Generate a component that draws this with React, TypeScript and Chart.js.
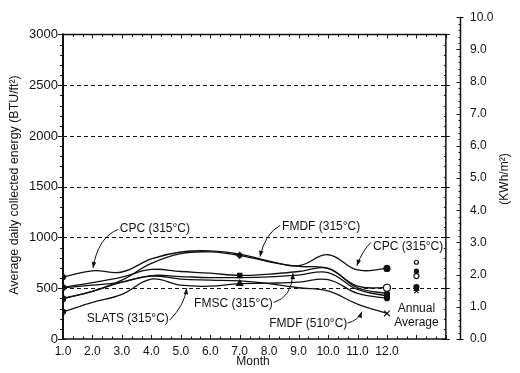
import React, { useEffect, useRef } from "react";
import { Chart, registerables } from "chart.js";

Chart.register(...registerables);

// ---------- data ----------
const months = [1, 2, 3, 4, 5, 6, 7, 8, 9, 10, 11, 12];
const monthTicks = [1, 2, 3, 4, 5, 6, 7, 8, 9, 10, 11, 12];
const energyTicks = [0, 500, 1000, 1500, 2000, 2500, 3000];
const kwhTicks = [0, 1, 2, 3, 4, 5, 6, 7, 8, 9, 10];

const cpc315 = [610, 672, 660, 790, 857, 868, 836, 768, 722, 830, 680, 695];
const fmdf315 = [400, 470, 580, 745, 842, 858, 824, 760, 715, 695, 520, 505];
const fmsc315 = [510, 555, 610, 685, 665, 648, 626, 640, 665, 695, 505, 447];
const otherSeries = [505, 530, 560, 625, 615, 605, 605, 612, 630, 655, 488, 424];
const slats315 = [268, 360, 440, 590, 530, 520, 545, 550, 560, 585, 450, 402];
const fmdf510 = [395, 470, 560, 620, 590, 580, 572, 545, 505, 473, 343, 252];

const annualMonth = 13;
const annualAverages = [756, 668, 620, 512, 490, 473];

const FONT = "'Liberation Sans', Arial, sans-serif";

type Ann = { text: string; tx: number; ty: number; a: [number, number][] };
// annotation anchors in data units (month, BTU/ft2)
const annotations: Ann[] = [
  { text: "CPC (315°C)", tx: 2.93, ty: 1089, a: [[2.87, 1079], [2.19, 1002], [2.02, 700]] },
  { text: "FMDF (315°C)", tx: 8.44, ty: 1109, a: [[8.37, 1118], [7.86, 1040], [7.69, 810]] },
  { text: "CPC (315°C)", tx: 11.53, ty: 914, a: [[11.46, 953], [11.15, 865], [10.98, 722]] },
  { text: "FMSC (315°C)", tx: 5.45, ty: 350, a: [[8.15, 360], [8.76, 405], [8.81, 648]] },
  { text: "SLATS (315°C)", tx: 1.81, ty: 204, a: [[4.62, 185], [5.12, 330], [5.2, 500]] },
  { text: "FMDF (510°C)", tx: 8.0, ty: 146, a: [[10.66, 156], [11.03, 185], [11.15, 268]] },
];

function pts(vals: number[]) {
  return months.map((m, i) => ({ x: m, y: vals[i] }));
}

function radii(first: number, mid: number, last: number) {
  return months.map((_, i) => (i === 0 ? first : i === 6 ? mid : i === 11 ? last : 0));
}

const decorPlugin = {
  id: "decor",
  beforeDatasetsDraw(chart: any) {
    const { ctx, scales, chartArea } = chart;
    const X = (v: number) => scales.x.getPixelForValue(v);
    const Y = (v: number) => scales.y.getPixelForValue(v);
    const R = (v: number) => scales.y2.getPixelForValue(v);
    ctx.save();
    ctx.strokeStyle = "#111";
    ctx.fillStyle = "#111";
    // dashed grid
    ctx.lineWidth = 1;
    ctx.setLineDash([4, 3]);
    for (const v of energyTicks) {
      if (v === 0 || v === 3000) continue;
      const yy = Math.round(Y(v)) + 0.5;
      ctx.beginPath();
      ctx.moveTo(X(1), yy);
      ctx.lineTo(X(14), yy);
      ctx.stroke();
    }
    ctx.setLineDash([]);
    const l = X(1), r = X(14), t = Y(3000), b = Y(0);
    // frame
    ctx.lineWidth = 1.5;
    ctx.beginPath();
    ctx.moveTo(l, t); ctx.lineTo(r, t); ctx.lineTo(r, b); ctx.lineTo(l, b);
    ctx.stroke();
    ctx.lineWidth = 2;
    ctx.beginPath();
    ctx.moveTo(l, t - 1); ctx.lineTo(l, b + 1);
    ctx.stroke();
    // left axis ticks and right frame ticks
    ctx.lineWidth = 1;
    for (let v = 0; v <= 3000; v += 100) {
      const yy = Math.round(Y(v)) + 0.5;
      const major = v % 500 === 0;
      ctx.beginPath();
      ctx.moveTo(l - (major ? 5 : 3), yy);
      ctx.lineTo(l + (major ? 3 : 0), yy);
      ctx.stroke();
      ctx.beginPath();
      ctx.moveTo(r - (major ? 4 : 2), yy);
      ctx.lineTo(r + (major ? 4 : 0), yy);
      ctx.stroke();
    }
    // top and bottom ticks
    for (let k = 0; k <= 39; k++) {
      const m = 1 + k / 3;
      const xx = Math.round(X(m)) + 0.5;
      const major = k % 3 === 0;
      ctx.beginPath();
      ctx.moveTo(xx, b);
      ctx.lineTo(xx, b - (major ? 4 : 2.5));
      ctx.stroke();
      ctx.beginPath();
      ctx.moveTo(xx, t);
      ctx.lineTo(xx, t + (major ? 4 : 2.5));
      ctx.stroke();
    }
    // right kWh axis
    const ax = chartArea.right + 0.5;
    ctx.lineWidth = 1.5;
    ctx.beginPath();
    ctx.moveTo(ax, R(0));
    ctx.lineTo(ax, R(10));
    ctx.stroke();
    ctx.lineWidth = 1;
    for (let k = 0; k <= 50; k++) {
      const v = k / 5;
      const yy = Math.round(R(v)) + 0.5;
      const major = k % 5 === 0;
      ctx.beginPath();
      ctx.moveTo(ax - (major ? 4 : 2), yy);
      ctx.lineTo(ax + (k === 0 || k === 50 ? 3 : 0), yy);
      ctx.stroke();
    }
    ctx.restore();
  },
  afterDatasetsDraw(chart: any) {
    const { ctx, scales } = chart;
    const X = (v: number) => scales.x.getPixelForValue(v);
    const Y = (v: number) => scales.y.getPixelForValue(v);
    ctx.save();
    ctx.fillStyle = "#111";
    ctx.strokeStyle = "#111";
    ctx.font = `12px ${FONT}`;
    ctx.textBaseline = "middle";
    ctx.textAlign = "left";
    for (const an of annotations) {
      ctx.fillText(an.text, X(an.tx), Y(an.ty));
      const [p0, p1, p2] = an.a.map(([m, v]) => [X(m), Y(v)]);
      ctx.lineWidth = 1;
      ctx.beginPath();
      ctx.moveTo(p0[0], p0[1]);
      ctx.quadraticCurveTo(p1[0], p1[1], p2[0], p2[1]);
      ctx.stroke();
      const ang = Math.atan2(p2[1] - p1[1], p2[0] - p1[0]);
      const L = 6, W = 2.3;
      ctx.beginPath();
      ctx.moveTo(p2[0], p2[1]);
      ctx.lineTo(p2[0] - L * Math.cos(ang) + W * Math.sin(ang), p2[1] - L * Math.sin(ang) - W * Math.cos(ang));
      ctx.lineTo(p2[0] - L * Math.cos(ang) - W * Math.sin(ang), p2[1] - L * Math.sin(ang) + W * Math.cos(ang));
      ctx.closePath();
      ctx.fill();
    }
    ctx.textAlign = "center";
    ctx.fillText("Annual", X(annualMonth), Y(301));
    ctx.fillText("Average", X(annualMonth), Y(165));
    // axis titles
    ctx.fillText("Month", 253, 362);
    ctx.save();
    ctx.font = `12.4px ${FONT}`;
    ctx.translate(15, 185);
    ctx.rotate(-Math.PI / 2);
    ctx.fillText("Average daily collected energy (BTU/ft²)", 0, 0);
    ctx.restore();
    ctx.save();
    ctx.translate(505, 179);
    ctx.rotate(-Math.PI / 2);
    ctx.fillText("(KWh/m²)", 0, 0);
    ctx.restore();
    ctx.restore();
  },
};

export default function App() {
  const ref = useRef<HTMLCanvasElement | null>(null);
  useEffect(() => {
    if (!ref.current) return;
    const line = (vals: number[], first: number, mid: number, last: number, style: any, midStyle: any, lastFill = "#111") => ({
      type: "line" as const,
      data: pts(vals),
      borderColor: "#111",
      borderWidth: 1.3,
      tension: 0.4,
      pointRadius: radii(first, mid, last),
      pointStyle: months.map((_, i) => (i === 6 ? midStyle : i === 11 ? style : "circle")),
      pointBackgroundColor: months.map((_, i) => (i === 11 ? lastFill : "#111")),
      pointBorderColor: "#111",
      pointBorderWidth: 1.2,
      yAxisID: "y",
      xAxisID: "x",
    });
    const chart = new Chart(ref.current, {
      type: "line",
      data: {
        datasets: [
          line(cpc315, 2.5, 0, 3, "circle", "circle"),
          line(fmdf315, 2.5, 3, 3.5, "circle", "rectRot", "#fff"),
          line(fmsc315, 2.5, 3, 2.5, "circle", "rect"),
          line(otherSeries, 2.5, 0, 2.5, "circle", "circle"),
          line(slats315, 2.5, 3.5, 2.5, "circle", "triangle"),
          line(fmdf510, 2.5, 0, 4, "crossRot", "circle"),
          {
            type: "scatter" as const,
            data: annualAverages.map((v) => ({ x: annualMonth, y: v })),
            pointRadius: [2, 2, 2.5, 2.5, 2.5, 3],
            pointStyle: ["circle", "circle", "circle", "circle", "triangle", "crossRot"],
            pointBackgroundColor: ["#fff", "#111", "#fff", "#111", "#111", "#111"],
            pointBorderColor: "#111",
            pointBorderWidth: 1.2,
            showLine: false,
            yAxisID: "y",
            xAxisID: "x",
          } as any,
        ],
      },
      options: {
        animation: false,
        responsive: true,
        maintainAspectRatio: false,
        layout: { padding: { top: 13, left: 0, right: 0, bottom: 0 } },
        plugins: { legend: { display: false }, tooltip: { enabled: false } },
        scales: {
          x: {
            type: "linear",
            min: 1,
            max: 14.48,
            grid: { display: false, drawTicks: false },
            border: { display: false },
            afterBuildTicks: (s: any) => { s.ticks = monthTicks.map((v) => ({ value: v })); },
            afterFit: (s: any) => { s.height = 34; },
            ticks: {
              autoSkip: false,
              maxRotation: 0,
              padding: 5,
              color: "#111",
              font: { family: FONT, size: 12 },
              callback: (v: any) => Number(v).toFixed(1),
            },
          },
          y: {
            type: "linear",
            position: "left",
            min: 0,
            max: 3170,
            grid: { display: false, drawTicks: false },
            border: { display: false },
            afterBuildTicks: (s: any) => { s.ticks = energyTicks.map((v) => ({ value: v })); },
            afterFit: (s: any) => { s.width = 63; },
            ticks: {
              padding: 5,
              color: "#111",
              font: { family: FONT, size: 13 },
              callback: (v: any) => String(v),
            },
          },
          y2: {
            type: "linear",
            position: "right",
            min: 0,
            max: 10,
            grid: { display: false, drawTicks: false },
            border: { display: false },
            afterBuildTicks: (s: any) => { s.ticks = kwhTicks.map((v) => ({ value: v })); },
            afterFit: (s: any) => { s.width = 60; },
            ticks: {
              padding: 10,
              color: "#111",
              font: { family: FONT, size: 12 },
              callback: (v: any) => Number(v).toFixed(1),
            },
          },
        },
      },
      plugins: [decorPlugin],
    } as any);
    return () => chart.destroy();
  }, []);
  return (
    <div style={{ position: "fixed", left: 0, top: 0, width: 520, height: 373, background: "#fff" }}>
      <canvas ref={ref} />
    </div>
  );
}
